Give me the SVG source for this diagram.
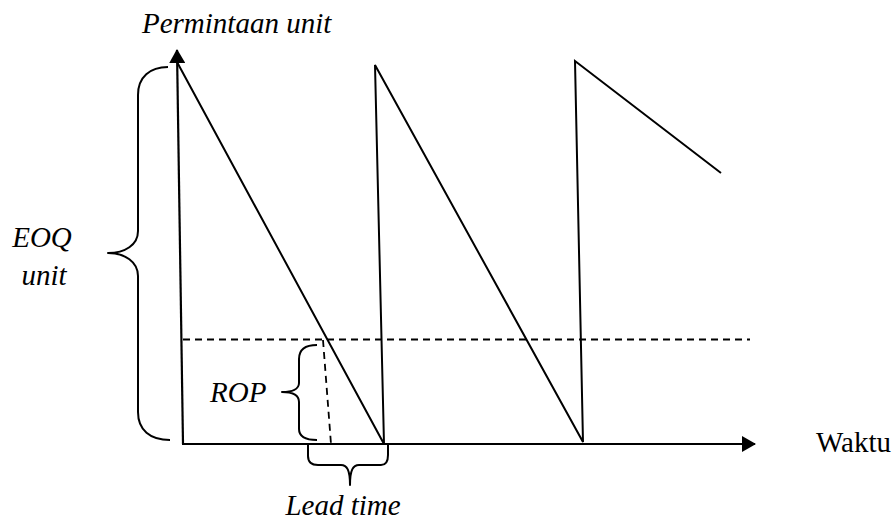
<svg xmlns="http://www.w3.org/2000/svg" width="896" height="520" viewBox="0 0 896 520">
  <defs>
    <style>
      .line { fill: none; stroke: #000; stroke-width: 2; }
      .axis { fill: none; stroke: #000; stroke-width: 2.2; }
      .dash { fill: none; stroke: #000; stroke-width: 1.8; stroke-dasharray: 7 5; }
      .brace { fill: none; stroke: #000; stroke-width: 2; stroke-linejoin: round; }
      .lbl { font-family: "Liberation Serif", "Times New Roman", serif; font-size: 29px; fill: #000; }
      .it { font-style: italic; }
    </style>
    <marker id="arrow" viewBox="0 0 14 16" refX="13" refY="8" markerWidth="14" markerHeight="16" markerUnits="userSpaceOnUse" orient="auto">
      <path d="M0,0 L14,8 L0,16 Z" fill="#000"/>
    </marker>
  </defs>

  <rect width="896" height="520" fill="#fff"/>

  <!-- axes -->
  <g id="axes">
    <line class="axis" x1="183" y1="444" x2="177" y2="50" marker-end="url(#arrow)"/>
    <line class="axis" x1="182" y1="444" x2="755" y2="444" marker-end="url(#arrow)"/>
  </g>

  <!-- inventory saw-tooth -->
  <g id="inventory">
    <polyline class="line" points="177,62 384,444 375,65 583,442 575,61 721,173"/>
  </g>

  <!-- reorder point level and lead-time marker -->
  <g id="rop-level">
    <line class="dash" x1="183" y1="339.5" x2="750" y2="339.5"/>
    <line class="dash" x1="323" y1="340" x2="331" y2="444"/>
  </g>

  <!-- braces -->
  <g id="brace-eoq">
    <path class="brace" d="M168,67 C150,67 138,77 138,95 L138,231 C138,245 125,253 108,253 C125,253 138,262 138,276 L138,412 C138,430 150,440 170,440"/>
  </g>
  <g id="brace-rop">
    <path class="brace" d="M317,345 C305,345 299,350 299,359 L299,383 C299,389 292,392 282,392 C292,392 299,395 299,402 L299,429 C299,436 305,440 317,440"/>
  </g>
  <g id="brace-lead">
    <path class="brace" d="M308,445 L308,456 C308,462 311,465 318,465 L341,465 C347,465 350,470 350,485 C350,470 353,465 359,465 L381,465 C386,465 388,461 388,455 L388,445"/>
  </g>

  <!-- labels -->
  <g id="labels">
    <text class="lbl it" x="142" y="33">Permintaan unit</text>
    <text class="lbl it" x="42" y="247" text-anchor="middle">EOQ</text>
    <text class="lbl it" x="44" y="285" text-anchor="middle">unit</text>
    <text class="lbl it" x="210" y="402">ROP</text>
    <text class="lbl it" x="343" y="515" text-anchor="middle">Lead time</text>
    <text class="lbl" x="816" y="452">Waktu</text>
  </g>
</svg>
